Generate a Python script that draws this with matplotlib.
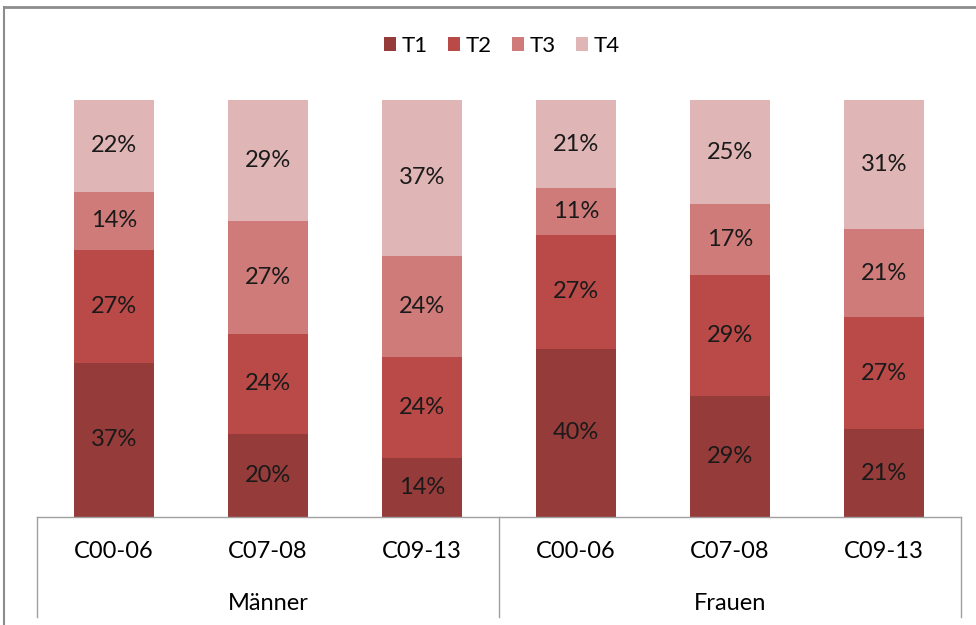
import matplotlib
matplotlib.use("Agg")
import matplotlib.pyplot as plt
import numpy as np
from matplotlib.lines import Line2D

plt.rcParams['font.family'] = ['Lato', 'DejaVu Sans']

# data (percent per group)
groups = ['Männer', 'Frauen']
cats = ['C00-06', 'C07-08', 'C09-13', 'C00-06', 'C07-08', 'C09-13']
series = ['T1', 'T2', 'T3', 'T4']
t1 = [37, 20, 14, 40, 29, 21]
t2 = [27, 24, 24, 27, 29, 27]
t3 = [14, 27, 24, 11, 17, 21]
t4 = [22, 29, 37, 21, 25, 31]
colors = ['#953B39', '#B94A48', '#CF7B79', '#E0B5B5']

vals = np.array([t1, t2, t3, t4], dtype=float)
share = vals / vals.sum(axis=0) * 100  # 100% stacked

fig = plt.figure(figsize=(9.76, 6.25), dpi=100)
ax = fig.add_axes([37 / 976, 108 / 625, 924 / 976, 417 / 625])

x = np.arange(len(cats))
bottom = np.zeros(len(cats))
for i, name in enumerate(series):
    ax.bar(x, share[i], bottom=bottom, width=0.52, color=colors[i], label=name)
    for xi, b, h, v in zip(x, bottom, share[i], vals[i]):
        ax.text(xi, b + h / 2, f'{int(v)}%', ha='center', va='center',
                fontsize=17, color='#1a1a1a')
    bottom += share[i]

ax.set_xlim(-0.5, len(cats) - 0.5)
ax.set_ylim(0, 100)
ax.set_yticks([])
ax.set_xticks([])
for s in ['top', 'right', 'left']:
    ax.spines[s].set_visible(False)
ax.spines['bottom'].set_color('#A0A0A0')
ax.spines['bottom'].set_linewidth(1)

# two-level category axis
for xi, c in zip(x, cats):
    ax.text(xi, -8.3, c, ha='center', va='center', fontsize=17,
            clip_on=False)
for gi, g in enumerate(groups):
    ax.text(gi * 3 + 1, -20.8, g, ha='center', va='center', fontsize=17,
            clip_on=False)
for xs in [-0.5, 2.5, 5.5]:
    ax.plot([xs, xs], [0, -24], color='#A0A0A0', lw=1, clip_on=False)

ax.legend(loc='center', bbox_to_anchor=(502 / 976, 1 - 46 / 625),
          bbox_transform=fig.transFigure, ncol=4, frameon=False,
          fontsize=16, handlelength=0.55, handleheight=0.55,
          handletextpad=0.25, columnspacing=0.9)

# chart frame (only top and left edges visible in the crop)
fig.add_artist(Line2D([4 / 976, 4 / 976], [0, 1 - 7 / 625], color='#8C8C8C',
                      lw=1.5, transform=fig.transFigure))
fig.add_artist(Line2D([4 / 976, 1], [1 - 7 / 625, 1 - 7 / 625], color='#8C8C8C',
                      lw=2, transform=fig.transFigure))

fig.savefig('out.png', dpi=100)
